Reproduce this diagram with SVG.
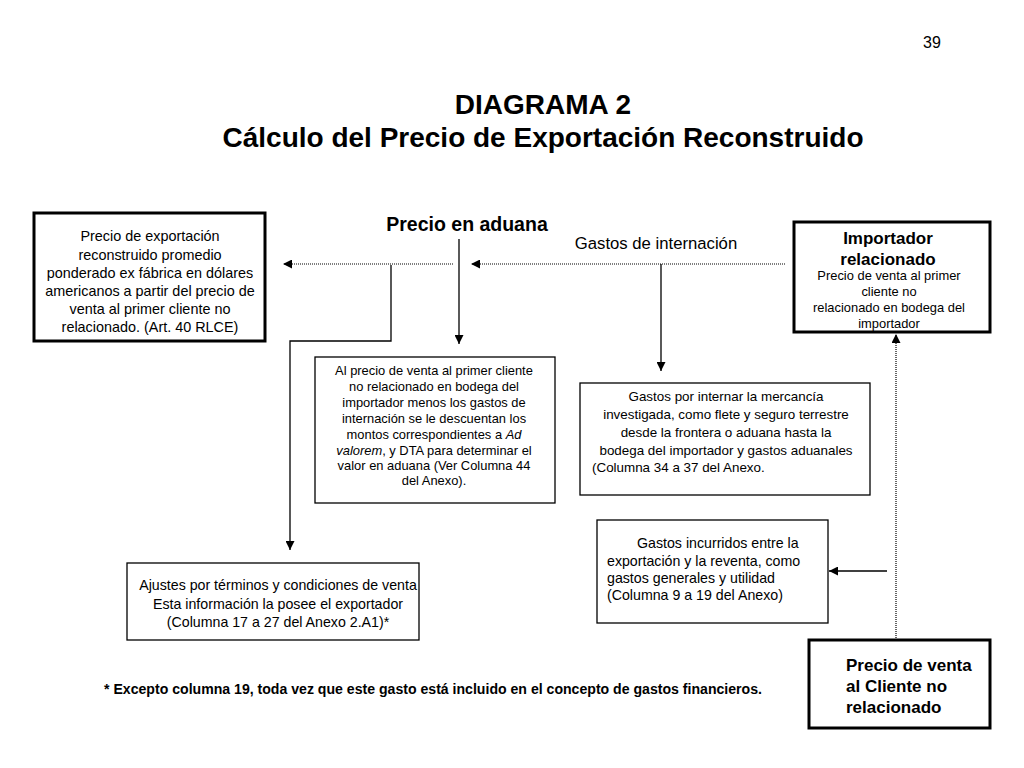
<svg xmlns="http://www.w3.org/2000/svg" width="1024" height="768" viewBox="0 0 1024 768">
<defs>
<style>
text{font-family:"Liberation Sans",Arial,sans-serif;fill:#000}
.t{font-size:14.2px}
.s{font-size:12.9px}
.b{font-weight:bold}
.c{text-anchor:middle}
.thick{fill:#fff;stroke:#000;stroke-width:3}
.thin{fill:#fff;stroke:#000;stroke-width:1.3}
.ln{fill:none;stroke:#000;stroke-width:1.3}
.dot{fill:none;stroke:#000;stroke-width:1.2;stroke-dasharray:1 1}
</style>
<marker id="ah" viewBox="0 0 10 10" refX="10" refY="5" markerWidth="9" markerHeight="9" markerUnits="userSpaceOnUse" orient="auto">
<path d="M0,0 L10,5 L0,10 z" fill="#000"/>
</marker>
</defs>
<rect width="1024" height="768" fill="#fff"/>
<text x="932" y="48" class="c" style="font-size:16px">39</text>
<text x="543" y="114" class="c b" style="font-size:28px">DIAGRAMA 2</text>
<text x="543" y="147" class="c b" style="font-size:28px">Cálculo del Precio de Exportación Reconstruido</text>
<text x="467" y="231" class="c b" style="font-size:19.5px">Precio en aduana</text>
<text x="656" y="249" class="c" style="font-size:16.7px">Gastos de internación</text>

<g id="connectors">
<line x1="453" y1="264" x2="283" y2="264" class="dot" marker-end="url(#ah)"/>
<line x1="785" y1="264" x2="471" y2="264" class="dot" marker-end="url(#ah)"/>
<polyline points="391,265 391,341 290,341 290,550" class="ln" marker-end="url(#ah)"/>
<line x1="459" y1="239" x2="459" y2="344" class="ln" marker-end="url(#ah)"/>
<line x1="661" y1="264" x2="661" y2="371" class="ln" marker-end="url(#ah)"/>
<line x1="896" y1="638" x2="896" y2="334" class="dot" marker-end="url(#ah)"/>
<line x1="887" y1="571" x2="829" y2="571" class="ln" marker-end="url(#ah)"/>
</g>

<g id="n-precio-export">
<rect x="34" y="213" width="231" height="128" class="thick"/>
<text class="c" style="font-size:14.4px"><tspan x="150" y="241">Precio de exportación</tspan><tspan x="150" y="260">reconstruido promedio</tspan><tspan x="150" y="278">ponderado ex fábrica en dólares</tspan><tspan x="150" y="296">americanos a partir del precio de</tspan><tspan x="150" y="314">venta al primer cliente no</tspan><tspan x="150" y="332">relacionado. (Art. 40 RLCE)</tspan></text>
</g>

<g id="n-importador">
<rect x="794" y="222" width="196" height="110" class="thick"/>
<text class="b c" style="font-size:17px"><tspan x="888" y="244">Importador</tspan><tspan x="888" y="265">relacionado</tspan></text>
<text class="s c"><tspan x="889" y="280">Precio de venta al primer</tspan><tspan x="889" y="296">cliente no</tspan><tspan x="889" y="312">relacionado en bodega del</tspan><tspan x="889" y="328">importador</tspan></text>
</g>

<g id="n-al-precio">
<rect x="315" y="357" width="240" height="146" class="thin"/>
<text class="s c"><tspan x="434" y="375">Al precio de venta al primer cliente</tspan><tspan x="434" y="391">no relacionado en bodega del</tspan><tspan x="434" y="407">importador menos los gastos de</tspan><tspan x="434" y="423">internación se le descuentan  los</tspan><tspan x="434" y="439">montos correspondientes a <tspan font-style="italic">Ad</tspan></tspan><tspan x="434" y="455"><tspan font-style="italic">valorem</tspan>, y DTA para determinar el</tspan><tspan x="434" y="470">valor en aduana  (Ver Columna 44</tspan><tspan x="434" y="485">del Anexo).</tspan></text>
</g>

<g id="n-gastos-internar">
<rect x="580" y="383" width="290" height="112" class="thin"/>
<text class="c" style="font-size:13.4px"><tspan x="726" y="401">Gastos por internar la mercancía</tspan><tspan x="726" y="419">investigada, como flete y seguro terrestre</tspan><tspan x="726" y="437">desde la frontera o aduana hasta la</tspan><tspan x="726" y="455">bodega del importador y gastos aduanales</tspan></text>
<text style="font-size:13.4px" x="592" y="472">(Columna 34 a 37 del Anexo.</text>
</g>

<g id="n-gastos-incurridos">
<rect x="597" y="520" width="231" height="103" class="thin"/>
<text class="t"><tspan x="637" y="548">Gastos incurridos entre la</tspan><tspan x="607" y="566">exportación y la reventa, como</tspan><tspan x="607" y="583">gastos generales y utilidad</tspan><tspan x="607" y="600">(Columna 9 a 19 del Anexo)</tspan></text>
</g>

<g id="n-ajustes">
<rect x="127" y="563" width="292" height="77" class="thin"/>
<text class="t c"><tspan x="278" y="590">Ajustes por términos y condiciones de venta</tspan><tspan x="278" y="609">Esta información la posee el exportador</tspan><tspan x="278" y="627">(Columna 17 a 27 del Anexo 2.A1)*</tspan></text>
</g>

<g id="n-precio-venta">
<rect x="809" y="640" width="181" height="88" class="thick"/>
<text class="b" style="font-size:17px"><tspan x="846" y="671">Precio de venta</tspan><tspan x="846" y="692">al Cliente no</tspan><tspan x="846" y="713">relacionado</tspan></text>
</g>

<text x="433" y="694" class="c b" style="font-size:14.1px">* Excepto columna 19, toda vez que este gasto está incluido en el concepto de gastos financieros.</text>
</svg>
